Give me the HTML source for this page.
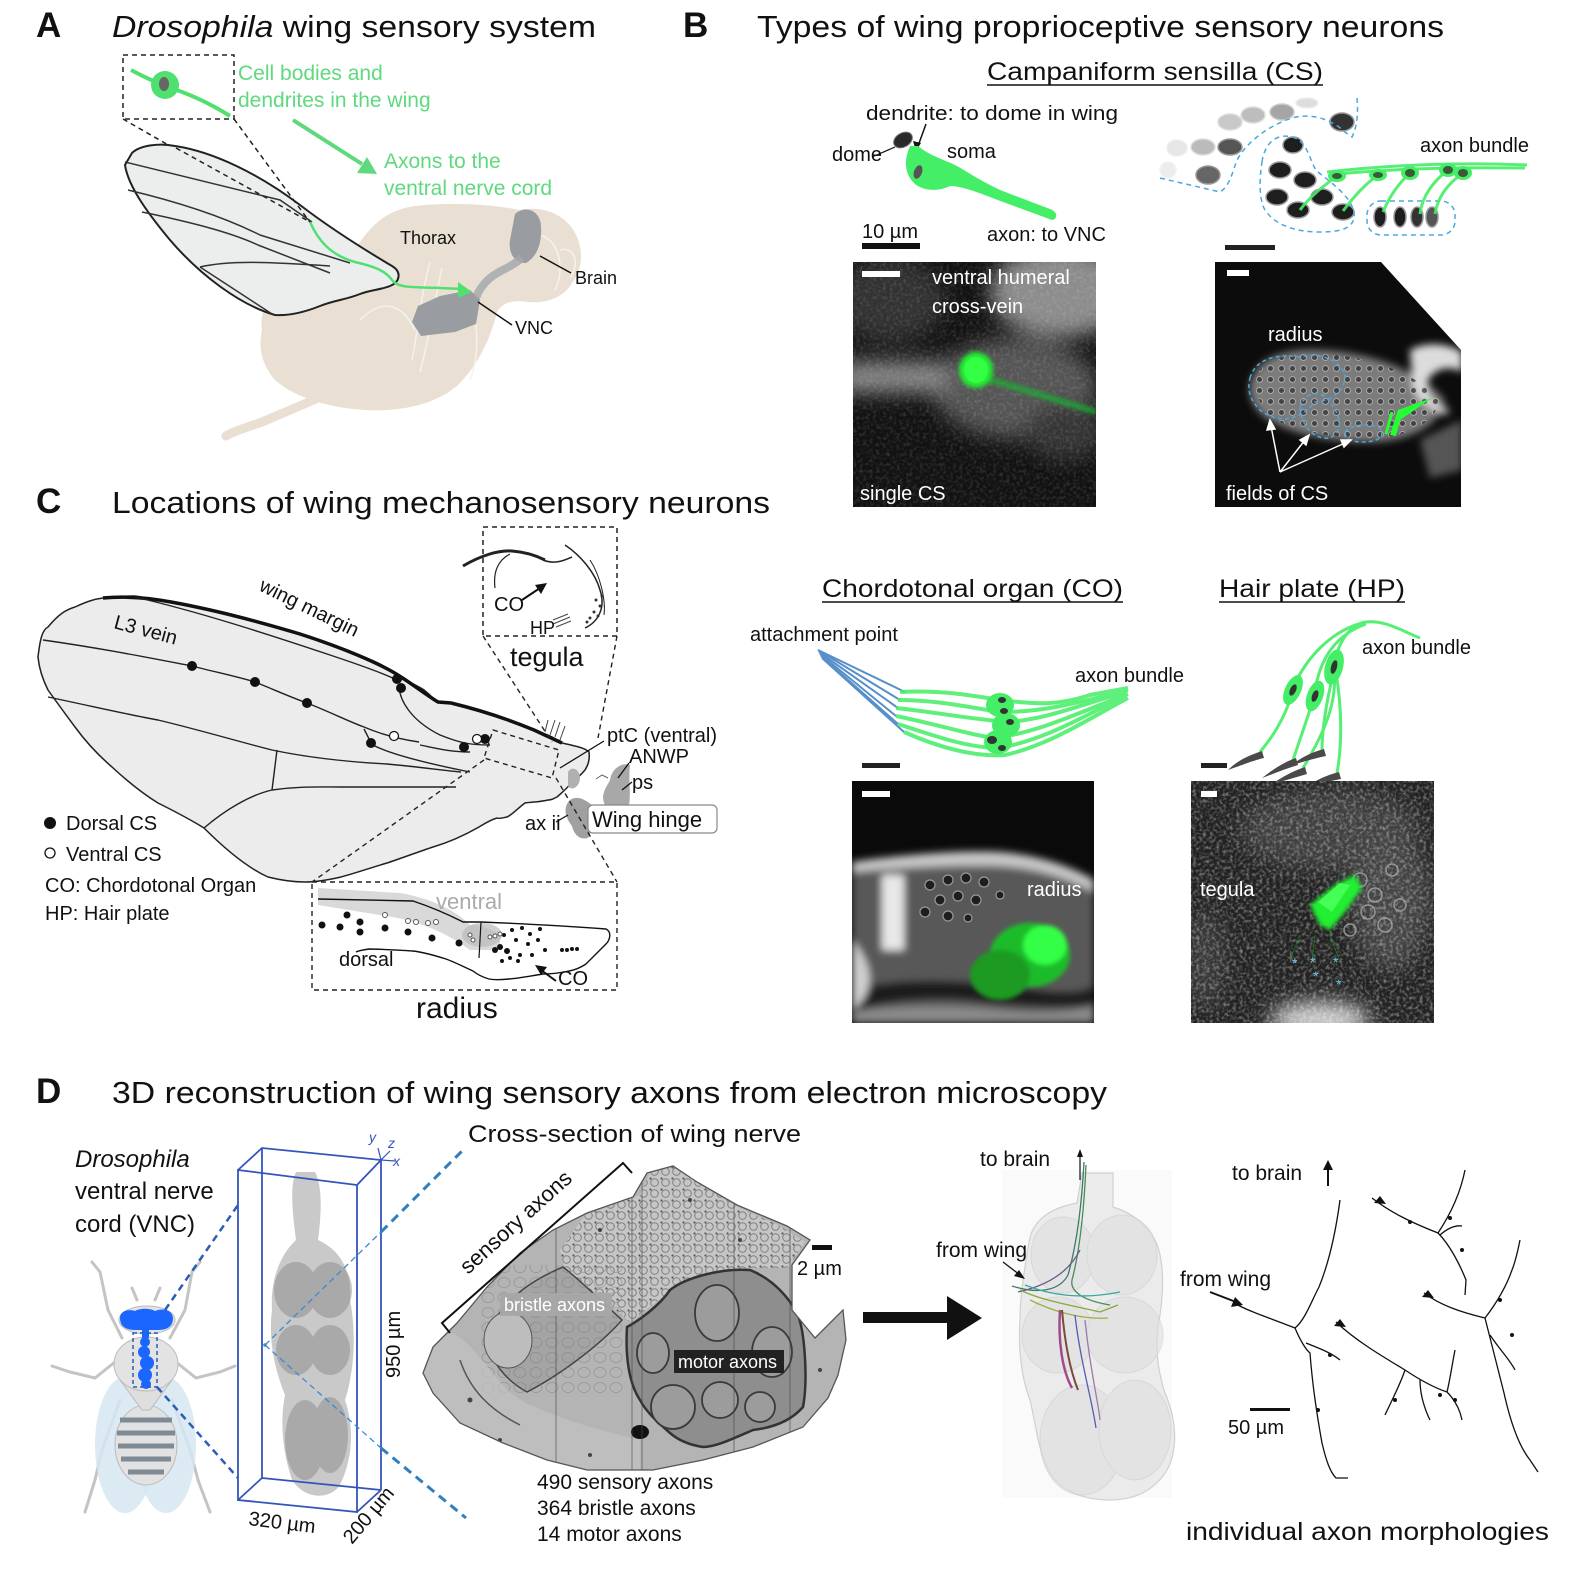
<!DOCTYPE html>
<html><head><meta charset="utf-8"><style>
html,body{margin:0;padding:0;background:#fff;}
svg{display:block;}
text{font-family:"Liberation Sans",Arial,sans-serif;fill:#111;}
</style></head><body>
<svg width="1584" height="1576" viewBox="0 0 1584 1576" xmlns="http://www.w3.org/2000/svg">
<defs>
<filter id="b2" x="-50%" y="-50%" width="200%" height="200%"><feGaussianBlur stdDeviation="2"/></filter>
<filter id="b4" x="-50%" y="-50%" width="200%" height="200%"><feGaussianBlur stdDeviation="4"/></filter>
<filter id="b10" x="-50%" y="-50%" width="200%" height="200%"><feGaussianBlur stdDeviation="10"/></filter>
<filter id="noise" x="0" y="0" width="100%" height="100%"><feTurbulence type="fractalNoise" baseFrequency="0.3" numOctaves="2" seed="4"/><feColorMatrix type="matrix" values="0 0 0 0 1  0 0 0 0 1  0 0 0 0 1  2.2 0 0 0 -0.95"/></filter>
<clipPath id="c1"><rect x="853" y="262" width="243" height="245"/></clipPath>
<clipPath id="c2"><polygon points="1215,262 1381,262 1461,350 1461,507 1215,507"/></clipPath>
<clipPath id="c3"><rect x="852" y="781" width="242" height="242"/></clipPath>
<clipPath id="c4"><rect x="1191" y="781" width="243" height="242"/></clipPath>
<clipPath id="cem"><path d="M647,1173 L673,1166 L697,1182 L737,1205 L787,1226 L810,1240 L792,1265 L792,1310 L815,1338 L835,1318 L843,1310 L846,1340 L838,1375 L828,1398 L803,1427 L753,1447 L703,1460 L653,1470 L587,1470 L547,1460 L503,1443 L460,1423 L433,1393 L423,1373 L433,1347 L457,1323 L487,1287 L520,1253 L553,1230 L587,1213 L633,1197 Z"/></clipPath>
<pattern id="cells" width="11" height="11" patternUnits="userSpaceOnUse"><circle cx="5.5" cy="5.5" r="3.8" fill="none" stroke="#666" stroke-width="1"/><circle cx="1.5" cy="1.5" r="1.1" fill="#333"/></pattern>
<pattern id="cells2" width="16" height="15" patternUnits="userSpaceOnUse"><ellipse cx="8" cy="7.5" rx="6" ry="5" fill="none" stroke="#777" stroke-width="0.8"/></pattern>
<pattern id="holes" width="11" height="11" patternUnits="userSpaceOnUse"><circle cx="5.5" cy="5.5" r="3" fill="#2a2a2a" stroke="#bbb" stroke-width="1"/></pattern>
</defs>

<!-- ================= PANEL A ================= -->
<text x="36" y="37" font-size="35" font-weight="bold">A</text>
<text x="112" y="37" font-size="31" textLength="484" lengthAdjust="spacingAndGlyphs"><tspan font-style="italic">Drosophila</tspan> wing sensory system</text>

<rect x="123" y="55" width="111" height="64" fill="none" stroke="#222" stroke-width="1.5" stroke-dasharray="5,4"/>
<path d="M131,70 Q150,80 165,86 Q200,97 230,116" stroke="#4fe06f" stroke-width="4" fill="none"/>
<circle cx="165" cy="85" r="14" fill="#4fe06f"/>
<ellipse cx="164" cy="84" rx="5" ry="7" fill="#666"/>
<text x="238" y="80" font-size="21" style="fill:#5fd97e">Cell bodies and</text>
<text x="238" y="107" font-size="21" style="fill:#5fd97e">dendrites in the wing</text>
<line x1="293" y1="120" x2="362" y2="164" stroke="#5fd97e" stroke-width="4"/>
<polygon points="377,174 357,173 367,157" fill="#5fd97e"/>
<text x="384" y="168" font-size="21" style="fill:#5fd97e">Axons to the</text>
<text x="384" y="195" font-size="21" style="fill:#5fd97e">ventral nerve cord</text>

<!-- fly body -->
<path d="M262,330 C258,305 275,290 300,282 C318,276 340,268 355,250 C368,228 385,210 415,206 C450,202 490,204 520,210 C540,206 560,212 572,228 C584,245 584,268 572,283 C565,296 548,304 528,302 C512,300 503,302 497,312 C490,340 478,365 458,385 C435,405 400,412 365,410 C330,408 295,398 275,380 C262,365 258,348 262,330 Z" fill="#e9e0d3"/>
<path d="M350,383 C320,398 290,410 262,422 C245,428 232,432 226,436" stroke="#e9e0d3" stroke-width="9" stroke-linecap="round" fill="none"/>
<g stroke="#f6f2ea" stroke-width="1.5" fill="none">
<path d="M430,262 C420,300 418,330 412,360"/>
<path d="M442,268 C435,300 430,335 420,372"/>
<path d="M360,320 C380,300 400,300 415,330"/>
<path d="M470,300 C480,330 478,360 470,380"/>
<path d="M540,235 C560,240 565,270 555,290"/>
<path d="M560,250 C575,245 580,265 570,278"/>
</g>
<path d="M515,214 C525,205 540,210 541,226 C542,242 538,256 526,263 C515,263 508,254 510,240 Z" fill="#999ca1"/>
<path d="M522,258 C510,268 500,270 490,278 C482,285 478,292 476,298" stroke="#a5a8ac" stroke-width="8" fill="none" opacity="0.85"/>
<path d="M418,306 L440,296 L470,290 L480,300 L476,324 L455,332 L421,336 L412,322 Z" fill="#999ca1"/>
<text x="400" y="244" font-size="18">Thorax</text>
<line x1="540" y1="256" x2="571" y2="273" stroke="#111" stroke-width="1.5"/>
<text x="575" y="284" font-size="18">Brain</text>
<line x1="478" y1="302" x2="512" y2="325" stroke="#111" stroke-width="1.5"/>
<text x="515" y="334" font-size="18">VNC</text>

<!-- wing A -->
<path d="M132,153 C140,145 160,143 175,146 C215,152 260,175 300,205 C330,228 365,250 392,266 C402,272 400,282 390,286 C380,290 370,290 360,294 C345,300 335,300 320,306 C305,312 290,316 275,315 C240,305 200,275 170,240 C145,210 128,185 125,165 Z" fill="#eceeee" stroke="#222" stroke-width="2"/>
<g stroke="#333" stroke-width="1.5" fill="none">
<path d="M125,162 L280,200 L312,222"/>
<path d="M128,190 C170,200 220,215 260,235 L350,263"/>
<path d="M142,212 C190,222 230,232 258,245 L330,273"/>
<path d="M200,267 C230,260 270,262 330,266"/>
<path d="M200,267 L272,314"/>
</g>
<g stroke="#222" stroke-width="1.5" stroke-dasharray="5,4" fill="none">
<line x1="123" y1="119" x2="170" y2="146"/>
<line x1="234" y1="119" x2="312" y2="225"/>
<line x1="176" y1="148" x2="310" y2="222"/>
</g>
<path d="M310,222 C318,240 330,255 355,262 C372,266 385,270 392,280 C398,288 410,287 440,288 L462,289" stroke="#4fe06f" stroke-width="2.5" fill="none"/>
<polygon points="472,292 458,282 458,298" fill="#4fe06f"/>

<!-- ================= PANEL B ================= -->
<text x="683" y="37" font-size="35" font-weight="bold">B</text>
<text x="757" y="37" font-size="31" textLength="687" lengthAdjust="spacingAndGlyphs">Types of wing proprioceptive sensory neurons</text>
<text x="987" y="80" font-size="25" textLength="336" lengthAdjust="spacingAndGlyphs">Campaniform sensilla (CS)</text>
<line x1="987" y1="85" x2="1323" y2="85" stroke="#111" stroke-width="1.5"/>

<!-- single CS schematic -->
<text x="866" y="120" font-size="20" textLength="252" lengthAdjust="spacingAndGlyphs">dendrite: to dome in wing</text>
<line x1="926" y1="124" x2="918" y2="146" stroke="#111" stroke-width="1.5"/>
<polygon points="916,151 913,141 921,143" fill="#111"/>
<ellipse cx="903" cy="140" rx="10" ry="7" transform="rotate(-30 903 140)" fill="#2a2a2a" stroke="#777" stroke-width="1"/>
<text x="832" y="161" font-size="20">dome</text>
<line x1="872" y1="157" x2="895" y2="147" stroke="#111" stroke-width="1.2"/>
<path d="M910,146 L918,146 C930,156 945,160 955,165 C965,170 975,178 1000,190 L1050,209 C1058,212 1058,219 1052,220 L995,199 C975,191 960,186 950,186 C940,191 925,192 915,184 C904,174 904,160 910,146 Z" fill="#44ee66"/>
<ellipse cx="918" cy="172" rx="4" ry="7" transform="rotate(20 918 172)" fill="#555"/>
<text x="947" y="158" font-size="20">soma</text>
<text x="862" y="238" font-size="20">10 µm</text>
<rect x="862" y="243" width="58" height="6" fill="#111"/>
<text x="987" y="241" font-size="20">axon: to VNC</text>

<!-- CS fields schematic -->
<g stroke="#999" stroke-width="1.5">
<ellipse cx="1230" cy="122" rx="12" ry="8" fill="#c8c8c8" stroke="#ddd"/>
<ellipse cx="1253" cy="115" rx="12" ry="8" fill="#bdbdbd" stroke="#ddd"/>
<ellipse cx="1282" cy="112" rx="12" ry="8" fill="#a5a5a5" stroke="#ccc"/>
<ellipse cx="1307" cy="103" rx="11" ry="5" fill="#ddd" stroke="#eee"/>
<ellipse cx="1342" cy="122" rx="12" ry="9" fill="#333"/>
<ellipse cx="1177" cy="148" rx="10" ry="8" fill="#e6e6e6" stroke="#eee"/>
<ellipse cx="1203" cy="147" rx="12" ry="8" fill="#bbb" stroke="#ddd"/>
<ellipse cx="1230" cy="147" rx="12" ry="8" fill="#555"/>
<ellipse cx="1168" cy="170" rx="8" ry="8" fill="#ececec" stroke="#f2f2f2"/>
<ellipse cx="1208" cy="175" rx="12" ry="9" fill="#666"/>
<ellipse cx="1293" cy="145" rx="10" ry="8" fill="#1e1e1e"/>
<ellipse cx="1280" cy="170" rx="11" ry="8" fill="#1e1e1e"/>
<ellipse cx="1305" cy="180" rx="11" ry="8" fill="#1e1e1e"/>
<ellipse cx="1277" cy="197" rx="11" ry="8" fill="#1e1e1e"/>
<ellipse cx="1322" cy="197" rx="11" ry="8" fill="#1e1e1e"/>
<ellipse cx="1298" cy="210" rx="11" ry="8" fill="#1e1e1e"/>
<ellipse cx="1343" cy="212" rx="11" ry="8" fill="#1e1e1e"/>
<ellipse cx="1380" cy="217" rx="6" ry="10" fill="#1e1e1e"/>
<ellipse cx="1400" cy="217" rx="6" ry="10" fill="#1e1e1e"/>
<ellipse cx="1417" cy="217" rx="6" ry="10" fill="#333"/>
<ellipse cx="1432" cy="217" rx="6" ry="10" fill="#555"/>
</g>
<g stroke="#4aa8e0" stroke-width="1.5" stroke-dasharray="5,4" fill="none">
<path d="M1160,178 L1220,192 C1232,185 1233,165 1240,155 C1250,140 1270,125 1292,118 C1310,113 1330,118 1345,132 L1352,137 C1358,125 1358,110 1357,98"/>
<path d="M1262,162 C1265,140 1280,132 1295,138 C1310,145 1310,165 1318,172 C1330,182 1350,195 1354,212 C1356,228 1342,232 1320,232 C1295,232 1275,225 1265,210 C1258,198 1260,175 1262,162 Z"/>
<rect x="1367" y="201" width="88" height="34" rx="14"/>
</g>
<g stroke="#44ee66" stroke-width="3" fill="none" opacity="0.9">
<path d="M1327,172 C1380,166 1450,162 1527,165"/>
<path d="M1337,174 C1400,168 1460,167 1525,168"/>
<path d="M1300,210 C1310,196 1325,185 1337,176"/>
<path d="M1343,211 C1355,195 1368,182 1378,175"/>
<path d="M1383,212 C1390,195 1400,182 1410,173"/>
<path d="M1420,214 C1422,195 1435,180 1448,170"/>
<path d="M1435,214 C1438,195 1450,182 1463,173"/>
</g>
<g fill="#44ee66"><ellipse cx="1337" cy="176" rx="9" ry="6"/><ellipse cx="1378" cy="175" rx="9" ry="6"/><ellipse cx="1410" cy="173" rx="9" ry="7"/><ellipse cx="1448" cy="170" rx="9" ry="7"/><ellipse cx="1463" cy="173" rx="9" ry="7"/></g>
<g fill="#3a5a3a"><ellipse cx="1337" cy="176" rx="5" ry="3"/><ellipse cx="1378" cy="175" rx="5" ry="3"/><ellipse cx="1410" cy="173" rx="5" ry="4"/><ellipse cx="1448" cy="170" rx="5" ry="4"/><ellipse cx="1463" cy="173" rx="5" ry="4"/></g>
<text x="1420" y="152" font-size="20">axon bundle</text>
<rect x="1225" y="245" width="50" height="5" fill="#222"/>

<!-- single CS image -->
<g clip-path="url(#c1)">
<rect x="853" y="262" width="243" height="245" fill="#121212"/>
<g filter="url(#b10)">
<ellipse cx="890" cy="300" rx="55" ry="42" fill="#333"/>
<ellipse cx="1060" cy="292" rx="70" ry="45" fill="#8c8c8c"/>
<ellipse cx="1015" cy="388" rx="82" ry="50" fill="#555"/>
<rect x="840" y="362" width="105" height="30" fill="#888"/>
<ellipse cx="1065" cy="432" rx="40" ry="28" fill="#363636"/>
</g>
<rect x="853" y="262" width="243" height="245" filter="url(#noise)" opacity="0.15"/>
<path d="M985,378 L1096,412" stroke="#1fb030" stroke-width="6" filter="url(#b2)" opacity="0.8"/>
<ellipse cx="976" cy="370" rx="17" ry="18" fill="#22ee33" filter="url(#b2)"/>
<ellipse cx="976" cy="370" rx="12" ry="13" fill="#33ff44"/>
</g>
<rect x="862" y="271" width="38" height="6" fill="#fff"/>
<text x="932" y="284" font-size="20" style="fill:#fff">ventral humeral</text>
<text x="932" y="313" font-size="20" style="fill:#fff">cross-vein</text>
<text x="860" y="500" font-size="20" style="fill:#fff">single CS</text>

<!-- fields of CS image -->
<g clip-path="url(#c2)">
<rect x="1215" y="262" width="246" height="245" fill="#0c0c0c"/>
<g filter="url(#b4)">
<path d="M1250,385 C1255,360 1280,348 1320,350 C1370,352 1420,370 1445,400 C1440,425 1410,442 1370,442 C1320,442 1280,430 1262,415 C1252,405 1248,395 1250,385 Z" fill="#7c7c7c"/>
<path d="M1410,350 C1430,340 1450,345 1462,352 L1462,372 C1450,365 1435,368 1428,380 C1425,395 1435,405 1450,410 L1445,415 C1425,408 1410,395 1412,375 Z" fill="#dcdcdc"/>
<path d="M1420,440 L1462,420 L1462,470 L1430,478 Z" fill="#555"/>
</g>
<path d="M1252,385 C1258,362 1282,352 1320,354 C1368,356 1415,372 1440,400 C1435,422 1408,438 1370,438 C1322,438 1284,428 1266,413 Z" fill="url(#holes)" opacity="0.7"/>
<g stroke="#4aa8e0" stroke-width="1.5" stroke-dasharray="4,3" fill="none">
<path d="M1250,378 C1255,360 1275,353 1300,357 C1320,352 1340,360 1345,375 C1345,390 1335,400 1315,402 C1300,420 1280,425 1260,410 C1250,400 1247,390 1250,378 Z"/>
<path d="M1300,408 C1305,390 1322,390 1330,402 C1340,415 1345,430 1330,438 C1315,440 1302,428 1300,408 Z"/>
<path d="M1345,432 C1350,425 1370,422 1380,428 C1385,436 1380,442 1362,442 C1350,442 1345,438 1345,432 Z"/>
</g>
<path d="M1390,435 L1398,410 L1432,398 L1400,420 L1396,436 Z" fill="#22ff33"/>
<path d="M1386,434 L1392,412" stroke="#22ff33" stroke-width="3"/>
</g>
<rect x="1227" y="270" width="22" height="6" fill="#fff"/>
<text x="1268" y="341" font-size="20" style="fill:#fff">radius</text>
<g stroke="#fff" stroke-width="1.5" fill="#fff">
<line x1="1280" y1="472" x2="1271" y2="426"/><polygon points="1270,420 1267,430 1275,429"/>
<line x1="1280" y1="472" x2="1305" y2="440"/><polygon points="1309,435 1300,440 1306,445"/>
<line x1="1280" y1="472" x2="1345" y2="443"/><polygon points="1351,440 1341,440 1344,447"/>
</g>
<text x="1226" y="500" font-size="20" style="fill:#fff">fields of CS</text>

<!-- CO / HP titles -->
<text x="822" y="597" font-size="25" textLength="301" lengthAdjust="spacingAndGlyphs">Chordotonal organ (CO)</text>
<line x1="822" y1="602" x2="1123" y2="602" stroke="#111" stroke-width="1.5"/>
<text x="1219" y="597" font-size="25" textLength="186" lengthAdjust="spacingAndGlyphs">Hair plate (HP)</text>
<line x1="1219" y1="602" x2="1405" y2="602" stroke="#111" stroke-width="1.5"/>

<!-- CO schematic -->
<text x="750" y="641" font-size="20">attachment point</text>
<g stroke="#3a7cc0" stroke-width="2" fill="none" opacity="0.85">
<path d="M818,650 L905,692"/><path d="M818,650 L900,700"/><path d="M819,652 L898,708"/><path d="M820,654 L896,716"/><path d="M821,656 L898,724"/><path d="M822,658 L904,732"/>
</g>
<g stroke="#44ee66" stroke-width="4" fill="none" opacity="0.85">
<path d="M900,692 C940,690 970,695 1000,700 C1040,705 1060,705 1090,695 L1128,688"/>
<path d="M898,700 C940,700 970,708 1002,712 C1040,712 1070,705 1128,690"/>
<path d="M896,708 C935,712 975,720 1010,722 C1050,718 1080,705 1126,692"/>
<path d="M896,716 C940,725 970,735 995,738 C1040,732 1080,712 1128,694"/>
<path d="M898,724 C940,738 970,748 1000,748 C1050,738 1085,715 1126,696"/>
<path d="M904,732 C940,748 975,757 1005,755 C1050,745 1090,718 1128,698"/>
</g>
<g fill="#44ee66"><ellipse cx="1000" cy="705" rx="14" ry="12"/><ellipse cx="1006" cy="725" rx="14" ry="12"/><ellipse cx="998" cy="742" rx="14" ry="12"/></g>
<g fill="#333"><ellipse cx="1002" cy="700" rx="4" ry="3"/><ellipse cx="1004" cy="711" rx="4" ry="3"/><ellipse cx="1010" cy="722" rx="4" ry="3"/><ellipse cx="992" cy="740" rx="5" ry="4"/><ellipse cx="1002" cy="748" rx="4" ry="3"/></g>
<text x="1075" y="682" font-size="20">axon bundle</text>
<rect x="862" y="763" width="38" height="5" fill="#222"/>

<!-- HP schematic -->
<g stroke="#44ee66" stroke-width="3" fill="none" opacity="0.9">
<path d="M1334,662 C1340,640 1350,625 1366,622 C1385,620 1400,630 1420,638"/>
<path d="M1315,690 C1320,660 1335,635 1366,624"/>
<path d="M1293,688 C1305,660 1330,630 1366,622"/>
<path d="M1293,690 C1285,720 1270,740 1260,752"/>
<path d="M1315,695 C1305,725 1298,745 1293,760"/>
<path d="M1334,672 C1325,705 1322,735 1322,750"/>
<path d="M1334,672 C1338,705 1320,740 1303,768"/>
<path d="M1336,672 C1342,710 1342,745 1337,773"/>
</g>
<g fill="#44ee66"><ellipse cx="1293" cy="690" rx="8" ry="16" transform="rotate(25 1293 690)"/><ellipse cx="1315" cy="696" rx="8" ry="16" transform="rotate(20 1315 696)"/><ellipse cx="1334" cy="667" rx="9" ry="18" transform="rotate(15 1334 667)"/></g>
<g fill="#333"><ellipse cx="1293" cy="690" rx="3" ry="6" transform="rotate(25 1293 690)"/><ellipse cx="1315" cy="696" rx="3" ry="6" transform="rotate(20 1315 696)"/><ellipse cx="1334" cy="667" rx="3" ry="7" transform="rotate(15 1334 667)"/></g>
<g fill="#4a4a4a">
<path d="M1262,751 C1250,755 1238,760 1228,770 C1245,764 1255,760 1264,758 Z"/>
<path d="M1296,758 C1284,762 1272,770 1262,778 C1278,772 1288,768 1298,765 Z"/>
<path d="M1324,749 C1312,752 1300,758 1292,765 C1306,761 1316,758 1326,756 Z"/>
<path d="M1305,767 C1293,771 1282,777 1272,784 C1287,780 1297,777 1307,774 Z"/>
<path d="M1339,772 C1327,775 1316,780 1306,787 C1321,783 1331,781 1341,779 Z"/>
</g>
<text x="1362" y="654" font-size="20">axon bundle</text>
<rect x="1201" y="763" width="26" height="5" fill="#222"/>

<!-- CO image -->
<g clip-path="url(#c3)">
<rect x="852" y="781" width="242" height="242" fill="#0a0a0a"/>
<g filter="url(#b4)">
<path d="M852,862 C900,855 960,850 1000,852 C1040,855 1075,868 1094,880 L1094,1023 L852,1023 Z" fill="#585858"/>
<path d="M852,862 C900,855 960,850 1000,852 C1040,855 1075,868 1094,880 L1094,892 C1070,880 1040,868 1000,866 C960,864 900,868 852,872 Z" fill="#c8c8c8"/>
<rect x="882" y="875" width="22" height="75" fill="#e8e8e8"/>
<path d="M852,990 C900,975 980,980 1040,990 C1070,994 1090,990 1094,985 L1094,1005 C1060,1010 1000,1005 960,1000 C910,998 870,1005 852,1012 Z" fill="#1c1c1c"/>
<path d="M852,1012 C900,1005 960,1005 1000,1010 C1040,1014 1080,1012 1094,1005 L1094,1023 L852,1023 Z" fill="#8a8a8a"/>
<path d="M852,940 C870,960 880,990 852,1010 Z" fill="#cfcfcf"/>
</g>
<g fill="#1e1e1e" stroke="#999" stroke-width="1.2">
<circle cx="930" cy="885" r="5"/><circle cx="948" cy="880" r="5"/><circle cx="966" cy="878" r="5"/><circle cx="984" cy="882" r="5"/><circle cx="940" cy="900" r="5"/><circle cx="958" cy="896" r="5"/><circle cx="976" cy="900" r="5"/><circle cx="925" cy="912" r="5"/><circle cx="948" cy="916" r="5"/><circle cx="968" cy="918" r="4"/><circle cx="1000" cy="895" r="4"/>
</g>
<g filter="url(#b2)">
<ellipse cx="1030" cy="955" rx="40" ry="32" fill="#1fbb2a"/>
<ellipse cx="1000" cy="975" rx="30" ry="25" fill="#1a9a24"/>
<ellipse cx="1045" cy="945" rx="22" ry="20" fill="#33ff44"/>
</g>
</g>
<rect x="862" y="791" width="28" height="6" fill="#fff"/>
<text x="1027" y="896" font-size="20" style="fill:#fff">radius</text>

<!-- HP image -->
<g clip-path="url(#c4)">
<rect x="1191" y="781" width="243" height="242" fill="#222"/>
<g filter="url(#b10)">
<ellipse cx="1330" cy="830" rx="90" ry="40" fill="#404040"/>
<ellipse cx="1390" cy="900" rx="40" ry="70" fill="#454545"/>
<ellipse cx="1320" cy="1020" rx="50" ry="18" fill="#cfcfcf"/>
<ellipse cx="1205" cy="960" rx="20" ry="50" fill="#3a3a3a"/>
</g>
<rect x="1191" y="781" width="243" height="242" filter="url(#noise)" opacity="0.45"/>
<g fill="none" stroke="#aaa" stroke-width="1.5" opacity="0.8">
<circle cx="1360" cy="880" r="7"/><circle cx="1375" cy="895" r="7"/><circle cx="1368" cy="912" r="7"/><circle cx="1385" cy="925" r="7"/><circle cx="1350" cy="930" r="6"/><circle cx="1392" cy="870" r="6"/><circle cx="1400" cy="905" r="6"/>
</g>
<g filter="url(#b2)">
<path d="M1310,905 L1335,885 L1355,875 L1362,888 L1345,912 L1330,930 L1320,925 Z" fill="#22ee33"/>
</g>
<path d="M1318,902 L1340,883 L1350,885 L1332,912 Z" fill="#44ff55"/>
<g stroke="#1a8a24" stroke-width="1" opacity="0.7"><line x1="1300" y1="935" x2="1290" y2="960"/><line x1="1315" y1="935" x2="1312" y2="960"/><line x1="1330" y1="935" x2="1340" y2="962"/></g>
</g>
<rect x="1201" y="791" width="16" height="6" fill="#fff"/>
<text x="1200" y="896" font-size="20" style="fill:#fff">tegula</text>
<g font-size="14">
<text x="1292" y="968" style="fill:#6fd0f5">*</text><text x="1310" y="967" style="fill:#6fd0f5">*</text><text x="1333" y="967" style="fill:#6fd0f5">*</text><text x="1313" y="981" style="fill:#6fd0f5">*</text><text x="1336" y="989" style="fill:#6fd0f5">*</text>
</g>

<!-- ================= PANEL C ================= -->
<text x="36" y="513" font-size="35" font-weight="bold">C</text>
<text x="112" y="513" font-size="31" textLength="658" lengthAdjust="spacingAndGlyphs">Locations of wing mechanosensory neurons</text>

<!-- tegula box -->
<rect x="483" y="527" width="134" height="109" fill="none" stroke="#222" stroke-width="1.5" stroke-dasharray="5,4"/>
<g stroke="#222" fill="none">
<path d="M463,566 C480,556 498,550 512,551 C525,552 535,555 545,560" stroke-width="3"/>
<path d="M495,588 C493,572 498,560 510,554" stroke-width="1.2"/>
<path d="M543,560 C555,565 565,560 572,557" stroke-width="1.5"/>
<path d="M565,545 C580,555 595,572 600,590 C606,608 598,622 585,628" stroke-width="1.5"/>
<path d="M590,560 C600,575 606,600 604,615" stroke-width="1"/>
</g>
<g fill="#333"><circle cx="596" cy="600" r="1.5"/><circle cx="600" cy="606" r="1.5"/><circle cx="594" cy="612" r="1.5"/><circle cx="590" cy="618" r="1.5"/><circle cx="598" cy="616" r="1.5"/><circle cx="587" cy="622" r="1.5"/><circle cx="602" cy="596" r="1.5"/></g>
<g stroke="#444" stroke-width="1" fill="none"><path d="M553,620 L568,614"/><path d="M553,624 L570,617"/><path d="M556,627 L571,621"/></g>
<text x="494" y="611" font-size="20">CO</text>
<line x1="522" y1="600" x2="540" y2="588" stroke="#111" stroke-width="2"/>
<polygon points="547,583 535,585 541,594" fill="#111"/>
<text x="530" y="634" font-size="18">HP</text>
<text x="510" y="666" font-size="27">tegula</text>

<!-- wing C -->
<path d="M38,657 C40,640 42,630 48,627 C58,615 65,610 75,607 C88,601 95,599 103,598 C115,596 125,596 135,596 C150,598 160,600 171,602 C190,606 210,609 227,613 C245,618 260,622 277,627 C300,634 315,638 332,645 C350,652 365,657 378,663 C390,669 395,673 401,677 C410,683 418,686 424,690 C430,695 434,699 438,702 L451,703 C465,706 472,708 479,710 C490,713 500,717 507,720 C518,724 526,727 534,730 C542,733 548,735 552,737 L562,743 L571,745 C578,747 585,748 589,752 C590,760 588,765 585,770 C580,776 575,780 571,783 C566,790 560,794 557,797 C553,799 551,800 548,800 C540,802 532,802 525,803 C518,808 512,815 507,817 C502,818 499,819 497,818 C490,820 484,824 479,827 C465,835 450,842 433,847 C418,852 402,858 387,863 C370,868 356,873 341,877 C328,880 316,882 305,882 C292,882 280,880 268,877 C248,868 226,850 204,828 C188,818 172,810 158,803 C140,792 126,780 112,767 C98,755 86,742 75,727 C64,712 55,700 48,690 C42,678 39,668 38,657 Z" fill="#ececec" stroke="#222" stroke-width="1.5"/>
<path d="M103,598 C125,596 150,598 171,602 C210,609 260,622 300,634 C340,647 380,663 401,677 C415,686 428,696 438,702 L451,703 C480,710 510,720 534,730 L562,743" fill="none" stroke="#111" stroke-width="3.5"/>
<g stroke="#222" stroke-width="1.4" fill="none">
<path d="M135,597 C200,612 270,635 330,655 C360,665 385,674 397,680"/>
<path d="M399,687 C400,700 410,720 440,735 C460,743 470,745 490,745"/>
<path d="M43,640 C100,648 150,658 192,666 C215,672 235,676 255,682 C275,690 290,697 307,703 C330,712 350,722 364,727 C385,736 405,740 419,742"/>
<path d="M364,729 C367,735 370,740 371,744 C385,752 420,762 470,772"/>
<path d="M48,697 C100,708 130,715 158,720 C200,730 240,742 272,750 C310,758 350,762 387,764 C420,767 440,770 461,772"/>
<path d="M204,828 C225,810 250,795 272,790 C300,786 320,787 341,787 C380,787 420,787 456,787"/>
<path d="M277,750 L272,790"/>
<path d="M420,745 C435,748 450,752 470,752"/>
</g>
<g fill="#111"><circle cx="192" cy="666" r="5"/><circle cx="255" cy="682" r="5"/><circle cx="307" cy="703" r="5"/><circle cx="371" cy="743" r="5"/><circle cx="397" cy="679" r="5"/><circle cx="401" cy="688" r="5"/><circle cx="464" cy="747" r="5"/><circle cx="485" cy="739" r="5"/></g>
<g fill="#fff" stroke="#111" stroke-width="1.2"><circle cx="394" cy="736" r="4.5"/><circle cx="477" cy="739" r="4.5"/></g>
<!-- hinge -->
<g stroke="#444" stroke-width="1" fill="none"><path d="M545,732 L548,720"/><path d="M550,735 L555,720"/><path d="M555,737 L560,722"/><path d="M560,740 L565,726"/></g>
<path d="M568,772 C572,765 580,770 580,778 C580,786 572,792 568,786 Z" fill="#b0b0b0"/>
<path d="M610,780 C612,768 622,762 630,765 C628,780 632,795 628,810 C620,818 610,815 605,805 C600,795 606,788 610,780 Z" fill="#a8a8a8"/>
<path d="M596,779 L602,775 L608,778" stroke="#666" fill="none"/>
<path d="M570,800 C578,795 585,800 592,805 C596,815 594,828 588,838 C580,840 574,835 572,826 C566,818 562,808 570,800 Z" fill="#a0a0a0"/>
<g stroke="#111" stroke-width="1.3"><line x1="560" y1="768" x2="604" y2="741"/><line x1="618" y1="778" x2="629" y2="763"/><line x1="622" y1="790" x2="632" y2="782"/><line x1="556" y1="822" x2="568" y2="815"/></g>
<text x="607" y="742" font-size="20">ptC (ventral)</text>
<text x="629" y="763" font-size="20">ANWP</text>
<text x="632" y="789" font-size="20">ps</text>
<text x="525" y="830" font-size="20">ax ii</text>
<rect x="588" y="805" width="129" height="28" rx="5" fill="#fff" stroke="#888" stroke-width="1.2"/>
<text x="592" y="827" font-size="22">Wing hinge</text>

<!-- dashed connectors C -->
<g stroke="#222" stroke-width="1.4" stroke-dasharray="5,4" fill="none">
<line x1="483" y1="636" x2="552" y2="742"/>
<line x1="617" y1="636" x2="598" y2="738"/>
<polygon points="493,730 559,750 552,778 484,758"/>
<line x1="484" y1="760" x2="312" y2="882"/>
<line x1="556" y1="778" x2="617" y2="882"/>
<rect x="312" y="882" width="305" height="108"/>
</g>

<!-- radius inset -->
<path d="M318,888 L400,893 C440,900 460,915 470,925 C480,925 490,928 500,935 L500,950 L470,950 C450,935 420,920 380,915 L318,905 Z" fill="#cfcfcf" opacity="0.8"/>
<ellipse cx="482" cy="935" rx="20" ry="12" fill="#bbb" opacity="0.7"/>
<path d="M318,899 L413,901 C440,910 455,918 463,922 L481,922 C530,924 580,927 606,929 C612,932 610,940 606,944 C598,952 592,958 586,964 C580,968 575,970 569,971 C560,973 550,974 543,974 C530,976 520,978 509,979 C500,980 494,980 489,979 C482,977 478,975 473,971 C460,965 452,961 446,959 C430,954 422,952 413,951 C395,950 380,949 369,949 C362,950 358,951 356,952" fill="none" stroke="#111" stroke-width="1.4"/>
<line x1="481" y1="922" x2="479" y2="958" stroke="#111" stroke-width="1.2"/>
<text x="436" y="909" font-size="22" style="fill:#aaa">ventral</text>
<text x="339" y="966" font-size="20">dorsal</text>
<g fill="#111"><circle cx="322" cy="925" r="3.5"/><circle cx="340" cy="927" r="3.5"/><circle cx="347" cy="915" r="3.5"/><circle cx="360" cy="922" r="3.5"/><circle cx="360" cy="932" r="3.5"/><circle cx="385" cy="928" r="3.5"/><circle cx="408" cy="932" r="3.5"/><circle cx="432" cy="938" r="3.5"/><circle cx="459" cy="943" r="3.5"/>
<circle cx="504" cy="935" r="2"/><circle cx="512" cy="930" r="2"/><circle cx="522" cy="928" r="2"/><circle cx="530" cy="934" r="2"/><circle cx="540" cy="929" r="2"/><circle cx="516" cy="940" r="2"/><circle cx="528" cy="944" r="2"/><circle cx="538" cy="940" r="2"/><circle cx="500" cy="947" r="3"/><circle cx="507" cy="951" r="3"/><circle cx="495" cy="950" r="3"/><circle cx="510" cy="958" r="2"/><circle cx="520" cy="955" r="2"/><circle cx="532" cy="955" r="2"/><circle cx="545" cy="950" r="2"/><circle cx="502" cy="961" r="2"/><circle cx="518" cy="961" r="2"/>
<circle cx="562" cy="950" r="2"/><circle cx="567" cy="950" r="2"/><circle cx="572" cy="949" r="2"/><circle cx="577" cy="949" r="2"/></g>
<g fill="#fff" stroke="#555" stroke-width="1"><circle cx="385" cy="915" r="2.5"/><circle cx="408" cy="921" r="2.5"/><circle cx="416" cy="922" r="2.5"/><circle cx="428" cy="923" r="2.5"/><circle cx="436" cy="922" r="2.5"/><circle cx="490" cy="937" r="2"/><circle cx="495" cy="936" r="2"/><circle cx="500" cy="934" r="2"/><circle cx="470" cy="935" r="2"/><circle cx="473" cy="940" r="2"/></g>
<line x1="556" y1="981" x2="541" y2="970" stroke="#111" stroke-width="2"/>
<polygon points="535,965 547,967 541,975" fill="#111"/>
<text x="558" y="985" font-size="20">CO</text>
<text x="416" y="1018" font-size="30">radius</text>

<!-- legend -->
<circle cx="50" cy="823" r="6" fill="#111"/>
<text x="66" y="830" font-size="20">Dorsal CS</text>
<circle cx="50" cy="853" r="5" fill="#fff" stroke="#111" stroke-width="1.3"/>
<text x="66" y="861" font-size="20">Ventral CS</text>
<text x="45" y="892" font-size="20">CO: Chordotonal Organ</text>
<text x="45" y="920" font-size="20">HP: Hair plate</text>
<text x="0" y="0" font-size="20" transform="translate(113,628) rotate(15)">L3 vein</text>
<text x="0" y="0" font-size="20" transform="translate(258,590) rotate(26)">wing margin</text>

<!-- ================= PANEL D ================= -->
<text x="36" y="1103" font-size="35" font-weight="bold">D</text>
<text x="112" y="1103" font-size="31" textLength="995" lengthAdjust="spacingAndGlyphs">3D reconstruction of wing sensory axons from electron microscopy</text>

<text x="75" y="1167" font-size="24" font-style="italic">Drosophila</text>
<text x="75" y="1199" font-size="24">ventral nerve</text>
<text x="75" y="1232" font-size="24">cord (VNC)</text>

<!-- fly D -->
<g stroke="#c4c4c4" stroke-width="3" fill="none" stroke-linecap="round">
<path d="M122,1338 L108,1310 L100,1272 L92,1262"/><path d="M170,1338 L185,1310 L192,1272 L200,1262"/>
<path d="M115,1362 L95,1378 L70,1372 L52,1366"/><path d="M176,1362 L196,1378 L220,1372 L235,1366"/>
<path d="M120,1400 L102,1450 L95,1480 L85,1512"/><path d="M172,1400 L190,1450 L198,1480 L210,1512"/>
<path d="M137,1300 L132,1288"/><path d="M155,1300 L160,1288"/>
</g>
<ellipse cx="125" cy="1445" rx="30" ry="68" fill="#d6e6f1" opacity="0.85"/>
<ellipse cx="166" cy="1445" rx="30" ry="68" fill="#d6e6f1" opacity="0.85"/>
<ellipse cx="146" cy="1445" rx="31" ry="40" fill="#e2e2e2" stroke="#bbb" stroke-width="1"/>
<g stroke="#7f8b94" stroke-width="5"><line x1="120" y1="1420" x2="172" y2="1420"/><line x1="117" y1="1433" x2="175" y2="1433"/><line x1="118" y1="1446" x2="174" y2="1446"/><line x1="121" y1="1459" x2="171" y2="1459"/><line x1="128" y1="1472" x2="164" y2="1472"/></g>
<path d="M120,1380 L172,1380 L150,1410 L142,1410 Z" fill="#dedede" stroke="#bbb" stroke-width="1"/>
<ellipse cx="146" cy="1364" rx="32" ry="27" fill="#e3e3e3" stroke="#bbb" stroke-width="1"/>
<ellipse cx="147" cy="1320" rx="28" ry="14" fill="#e3e3e3" stroke="#bbb" stroke-width="1"/>
<path d="M120,1318 C120,1310 130,1309 135,1311 C140,1308 150,1308 155,1311 C162,1308 172,1309 173,1318 C173,1328 165,1330 158,1330 L136,1330 C128,1330 120,1328 120,1318 Z" fill="#1a66ff"/>
<rect x="142" y="1328" width="7" height="10" fill="#1a66ff"/>
<g fill="#1a66ff"><circle cx="145" cy="1342" r="5"/><circle cx="144" cy="1352" r="6"/><circle cx="147" cy="1363" r="7"/><circle cx="145" cy="1375" r="7"/><circle cx="146" cy="1384" r="5"/></g>
<rect x="133" y="1333" width="24" height="54" fill="none" stroke="#2b5cb8" stroke-width="1.5" stroke-dasharray="4,3"/>
<g stroke="#2b5cb8" stroke-width="2.5" stroke-dasharray="7,5"><line x1="165" y1="1310" x2="238" y2="1205"/><line x1="157" y1="1387" x2="238" y2="1478"/></g>

<!-- 3D box -->
<path d="M296,1172 C290,1185 292,1210 296,1240 C280,1255 270,1280 272,1310 C268,1340 275,1370 285,1395 C280,1420 282,1450 292,1480 C305,1500 330,1500 340,1485 C352,1460 355,1430 345,1400 C355,1370 356,1330 350,1300 C352,1270 340,1250 318,1240 C322,1210 322,1185 315,1172 Z" fill="#9c9c9c" opacity="0.55"/>
<g fill="#8a8a8a" opacity="0.5"><ellipse cx="296" cy="1290" rx="22" ry="28"/><ellipse cx="330" cy="1290" rx="22" ry="28"/><ellipse cx="296" cy="1350" rx="20" ry="25"/><ellipse cx="330" cy="1350" rx="20" ry="25"/><ellipse cx="305" cy="1440" rx="20" ry="40"/><ellipse cx="330" cy="1435" rx="18" ry="38"/></g>
<g stroke="#3355bb" stroke-width="1.8" fill="none">
<polygon points="238,1170 357,1185 357,1512 238,1500"/>
<polyline points="238,1170 262,1148 381,1160 357,1185"/>
<line x1="381" y1="1160" x2="381" y2="1490"/>
<line x1="381" y1="1490" x2="357" y2="1512"/>
<line x1="262" y1="1148" x2="262" y2="1478"/>
<line x1="262" y1="1478" x2="381" y2="1490"/>
<line x1="262" y1="1478" x2="238" y2="1500"/>
</g>
<g stroke="#3355bb" stroke-width="1.2" fill="#3355bb"><line x1="381" y1="1160" x2="395" y2="1161"/><line x1="381" y1="1160" x2="378" y2="1148"/><line x1="381" y1="1160" x2="390" y2="1151"/></g>
<text x="369" y="1142" font-size="14" font-style="italic" style="fill:#3355bb">y</text>
<text x="388" y="1148" font-size="14" font-style="italic" style="fill:#3355bb">z</text>
<text x="393" y="1166" font-size="14" font-style="italic" style="fill:#3355bb">x</text>
<g stroke="#3a8ad0" stroke-width="1.3" stroke-dasharray="6,4"><line x1="265" y1="1345" x2="381" y2="1232"/><line x1="265" y1="1345" x2="381" y2="1448"/></g>
<circle cx="265" cy="1345" r="1.8" fill="#3a8ad0"/>
<g stroke="#2f7fc0" stroke-width="3" stroke-dasharray="9,6"><line x1="381" y1="1232" x2="465" y2="1148"/><line x1="381" y1="1448" x2="466" y2="1518"/></g>
<text x="0" y="0" font-size="20" transform="translate(400,1378) rotate(-90)">950 µm</text>
<text x="0" y="0" font-size="20" transform="translate(248,1525) rotate(7)">320 µm</text>
<text x="0" y="0" font-size="20" transform="translate(352,1545) rotate(-50)">200 µm</text>

<!-- EM cross-section -->
<text x="468" y="1142" font-size="24" textLength="333" lengthAdjust="spacingAndGlyphs">Cross-section of wing nerve</text>
<g clip-path="url(#cem)">
<rect x="420" y="1160" width="430" height="315" fill="#b4b4b4"/>
<path d="M585,1215 L640,1195 L650,1172 L675,1166 L700,1185 L740,1208 L780,1226 L805,1242 L788,1268 L750,1268 L705,1273 L670,1292 L630,1322 L610,1305 L590,1290 L565,1270 L560,1250 Z" fill="#c6c6c6"/>
<path d="M585,1215 L640,1195 L650,1172 L675,1166 L700,1185 L740,1208 L780,1226 L805,1242 L788,1268 L750,1268 L705,1273 L670,1292 L630,1322 L610,1305 L590,1290 L565,1270 L560,1250 Z" fill="url(#cells)" opacity="0.75"/>
<path d="M563,1267 C580,1280 600,1300 622,1320 C600,1345 560,1375 527,1392 C505,1380 490,1360 487,1340 C495,1310 520,1285 563,1267 Z" fill="#a4a4a4" stroke="#444" stroke-width="1.5"/>
<rect x="480" y="1265" width="145" height="130" fill="url(#cells2)" opacity="0.5"/>
<path d="M440,1330 C470,1330 490,1380 520,1400 C560,1420 600,1430 640,1440 L640,1480 L420,1480 L420,1340 Z" fill="#c2c2c2" opacity="0.7"/>
<ellipse cx="508" cy="1340" rx="24" ry="28" fill="#bdbdbd" stroke="#555" stroke-width="1"/>
<path d="M627,1327 C640,1320 660,1305 670,1290 C685,1278 720,1268 750,1270 C775,1280 790,1300 797,1313 C805,1330 808,1380 803,1407 C790,1422 770,1428 753,1430 C730,1440 715,1447 703,1447 C690,1445 678,1440 670,1433 C655,1420 645,1410 640,1400 C630,1385 625,1360 627,1327 Z" fill="#8e8e8e" stroke="#333" stroke-width="2.5"/>
<g fill="#9c9c9c" stroke="#3a3a3a" stroke-width="1.8"><ellipse cx="717" cy="1313" rx="22" ry="28"/><ellipse cx="772" cy="1352" rx="20" ry="25"/><ellipse cx="673" cy="1407" rx="22" ry="22"/><ellipse cx="653" cy="1353" rx="16" ry="20"/><ellipse cx="760" cy="1407" rx="15" ry="15"/><ellipse cx="720" cy="1400" rx="18" ry="18"/></g>
<ellipse cx="640" cy="1432" rx="9" ry="7" fill="#111"/>
<path d="M460,1360 C470,1390 490,1410 520,1425" stroke="#555" stroke-width="1.5" fill="none"/>
<g stroke="#444" stroke-width="1" opacity="0.6"><line x1="556" y1="1160" x2="556" y2="1475"/><line x1="632" y1="1160" x2="632" y2="1475"/><line x1="642" y1="1160" x2="642" y2="1475"/><line x1="734" y1="1160" x2="734" y2="1475"/><line x1="790" y1="1160" x2="790" y2="1475"/></g>
<g fill="#444"><circle cx="600" cy="1230" r="2"/><circle cx="690" cy="1200" r="2"/><circle cx="740" cy="1240" r="2"/><circle cx="470" cy="1400" r="2.5"/><circle cx="500" cy="1440" r="2"/><circle cx="590" cy="1455" r="2"/><circle cx="820" cy="1370" r="2"/></g>
</g>
<path d="M647,1173 L673,1166 L697,1182 L737,1205 L787,1226 L810,1240 L792,1265 L792,1310 L815,1338 L835,1318 L843,1310 L846,1340 L838,1375 L828,1398 L803,1427 L753,1447 L703,1460 L653,1470 L587,1470 L547,1460 L503,1443 L460,1423 L433,1393 L423,1373 L433,1347 L457,1323 L487,1287 L520,1253 L553,1230 L587,1213 L633,1197 Z" fill="none" stroke="#555" stroke-width="1.3"/>
<polyline points="450,1333 442,1323 623,1163 632,1173" fill="none" stroke="#111" stroke-width="2"/>
<text x="0" y="0" font-size="22" transform="translate(468,1275) rotate(-42)">sensory axons</text>
<rect x="500" y="1293" width="112" height="23" fill="#a8a8a8" opacity="0.95"/>
<text x="504" y="1311" font-size="18" style="fill:#fff">bristle axons</text>
<rect x="674" y="1350" width="110" height="23" fill="#222"/>
<text x="678" y="1368" font-size="18" style="fill:#fff">motor axons</text>
<rect x="812" y="1245" width="20" height="5" fill="#111"/>
<text x="797" y="1275" font-size="20">2 µm</text>
<text x="537" y="1489" font-size="21">490 sensory axons</text>
<text x="537" y="1515" font-size="21">364 bristle axons</text>
<text x="537" y="1541" font-size="21">14 motor axons</text>

<!-- big arrow -->
<rect x="863" y="1312" width="86" height="11" fill="#111"/>
<polygon points="947,1296 982,1318 947,1340" fill="#111"/>

<!-- VNC reconstruction -->
<rect x="1002" y="1170" width="170" height="328" fill="#fafafa"/>
<path d="M1082,1173 L1113,1173 L1113,1207 C1130,1212 1150,1225 1158,1247 C1165,1270 1163,1300 1158,1327 C1156,1345 1156,1365 1165,1393 C1177,1420 1178,1450 1167,1470 C1155,1490 1135,1500 1110,1500 C1085,1500 1060,1492 1048,1470 C1038,1450 1035,1420 1030,1400 C1022,1380 1018,1350 1020,1320 C1020,1295 1025,1265 1030,1237 C1035,1220 1050,1208 1077,1203 Z" fill="#ebebeb" stroke="#d0d0d0" stroke-width="1.2"/>
<g fill="#dedede" stroke="#cccccc" stroke-width="1" opacity="0.6">
<ellipse cx="1063" cy="1255" rx="32" ry="38"/><ellipse cx="1122" cy="1255" rx="35" ry="40"/><ellipse cx="1058" cy="1335" rx="36" ry="38"/><ellipse cx="1125" cy="1335" rx="38" ry="38"/><ellipse cx="1082" cy="1440" rx="42" ry="55"/><ellipse cx="1135" cy="1430" rx="36" ry="50"/>
</g>
<g fill="none" stroke-width="1.3">
<path d="M1084,1162 C1082,1200 1078,1240 1068,1275 C1060,1290 1040,1295 1012,1286" stroke="#3c7a6a"/>
<path d="M1086,1165 C1084,1210 1080,1250 1072,1280 C1070,1290 1080,1300 1110,1305" stroke="#4b8b55"/>
<path d="M1080,1250 C1070,1270 1050,1285 1018,1292" stroke="#6a5a8a"/>
<path d="M1020,1290 C1040,1300 1070,1305 1100,1312 L1118,1305" stroke="#8aa83a"/>
<path d="M1025,1285 C1050,1295 1080,1300 1120,1292" stroke="#3aa8a0"/>
<path d="M1030,1300 C1050,1310 1080,1320 1108,1318" stroke="#9ab040"/>
<path d="M1060,1310 C1058,1340 1062,1370 1072,1388" stroke="#a04a8a" stroke-width="2.5"/>
<path d="M1062,1310 C1065,1345 1070,1370 1078,1390" stroke="#7a4a3a" stroke-width="2"/>
<path d="M1075,1315 C1080,1360 1092,1400 1096,1428" stroke="#5a5ab0"/>
<path d="M1085,1320 C1090,1370 1098,1400 1100,1420" stroke="#9a7ab0"/>
</g>
<text x="980" y="1166" font-size="21">to brain</text>
<line x1="1080" y1="1180" x2="1080" y2="1153" stroke="#111" stroke-width="1.2"/>
<polygon points="1080,1149 1077,1157 1083,1157" fill="#111"/>
<text x="936" y="1257" font-size="21">from wing</text>
<line x1="1003" y1="1262" x2="1020" y2="1275" stroke="#111" stroke-width="1.3"/>
<polygon points="1025,1279 1014,1276 1019,1270" fill="#111"/>

<!-- individual morphologies -->
<g fill="none" stroke="#111" stroke-width="1.3">
<path d="M1234,1303 C1250,1312 1270,1318 1295,1328 C1305,1320 1312,1300 1319,1287 C1330,1260 1336,1230 1340,1200"/>
<path d="M1295,1328 C1300,1340 1306,1350 1310,1353 C1312,1380 1316,1410 1322,1443 C1326,1460 1330,1472 1336,1478 L1348,1478"/>
<path d="M1306,1343 C1318,1348 1330,1352 1340,1360"/>
<path d="M1372,1198 C1390,1212 1410,1222 1438,1233 C1450,1245 1460,1265 1466,1280 L1465,1295"/>
<path d="M1438,1233 C1450,1215 1460,1195 1465,1170"/>
<path d="M1440,1235 C1448,1228 1455,1225 1462,1226"/>
<path d="M1424,1293 C1440,1305 1460,1312 1485,1318 C1495,1305 1505,1290 1512,1270 C1516,1260 1518,1250 1520,1240"/>
<path d="M1485,1318 C1492,1345 1498,1370 1504,1393 C1510,1420 1518,1445 1530,1460 L1538,1472"/>
<path d="M1490,1335 C1500,1350 1510,1360 1515,1370"/>
<path d="M1336,1322 C1355,1340 1380,1355 1405,1370 C1420,1380 1435,1388 1447,1392 C1455,1400 1460,1410 1462,1420"/>
<path d="M1405,1370 C1400,1385 1392,1400 1385,1415"/>
<path d="M1447,1392 C1450,1380 1452,1365 1455,1350"/>
<path d="M1420,1380 C1420,1395 1425,1410 1430,1420"/>
</g>
<g fill="#111"><circle cx="1410" cy="1222" r="2"/><circle cx="1450" cy="1218" r="2"/><circle cx="1462" cy="1250" r="2"/><circle cx="1500" cy="1300" r="2"/><circle cx="1512" cy="1335" r="2"/><circle cx="1440" cy="1395" r="2"/><circle cx="1455" cy="1400" r="2"/><circle cx="1395" cy="1400" r="2"/><circle cx="1330" cy="1355" r="2"/><circle cx="1318" cy="1410" r="2"/></g>
<polygon points="1386,1204 1374,1203 1380,1196" fill="#111"/>
<polygon points="1434,1298 1422,1297 1428,1290" fill="#111"/>
<polygon points="1346,1327 1334,1326 1340,1319" fill="#111"/>
<text x="1232" y="1180" font-size="21">to brain</text>
<line x1="1328" y1="1186" x2="1328" y2="1166" stroke="#111" stroke-width="2"/>
<polygon points="1328,1160 1323,1170 1333,1170" fill="#111"/>
<text x="1180" y="1286" font-size="21">from wing</text>
<line x1="1210" y1="1292" x2="1236" y2="1302" stroke="#111" stroke-width="2"/>
<polygon points="1243,1305 1231,1307 1235,1297" fill="#111"/>
<rect x="1250" y="1408" width="40" height="3" fill="#111"/>
<text x="1228" y="1434" font-size="20">50 µm</text>
<text x="1186" y="1540" font-size="25" textLength="363" lengthAdjust="spacingAndGlyphs">individual axon morphologies</text>
</svg>
</body></html>
